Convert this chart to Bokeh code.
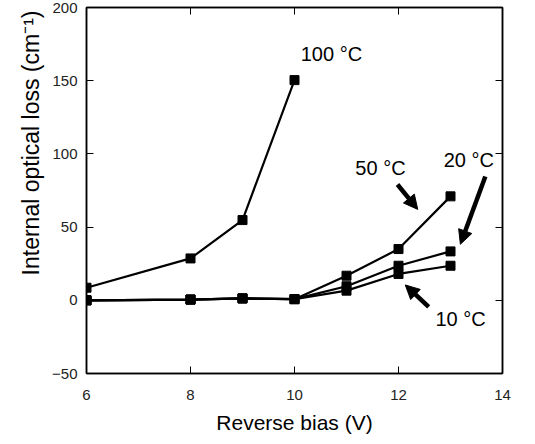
from bokeh.plotting import figure
from bokeh.models import LinearAxis, Range1d, Arrow, NormalHead, Label, FixedTicker, Title
from bokeh.embed import file_html
from bokeh.resources import INLINE

# Data
bias_100 = [6, 8, 9, 10]
loss_100 = [8.6, 28.6, 54.8, 150.4]

bias_low = [6, 8, 9, 10, 11, 12, 13]
loss_50 = [0.0, 0.5, 1.3, 0.8, 16.8, 35.0, 71.0]
loss_20 = [0.0, 0.5, 1.3, 0.8, 9.6, 23.6, 33.4]
loss_10 = [0.0, 0.5, 1.3, 0.8, 6.6, 18.0, 23.6]

x_ticks = [6, 8, 10, 12, 14]
y_ticks = [-50, 0, 50, 100, 150, 200]

labels = ["100 °C", "50 °C", "20 °C", "10 °C"]
label_x = [10.12, 11.17, 12.87, 12.71]
label_y = [168, 90.6, 96, -12.6]

# arrows: (x_start, y_start, x_end, y_end)
arrow_x0 = [11.98, 13.67, 12.58]
arrow_y0 = [79.1, 84.6, -4.5]
arrow_x1 = [12.37, 13.19, 12.13]
arrow_y1 = [62.1, 38.3, 10.5]

FONT = "Liberation Sans"
H = 436

p = figure(width=519, height=H, x_range=Range1d(6, 14), y_range=Range1d(-50, 200),
           output_backend="svg", toolbar_location=None,
           min_border_left=86, min_border_right=17, min_border_top=7, min_border_bottom=61)

p.grid.visible = False
p.outline_line_color = "black"
p.outline_line_width = 1.5
p.background_fill_color = "white"
p.border_fill_color = "white"

p.xaxis.ticker = FixedTicker(ticks=x_ticks)
p.yaxis.ticker = FixedTicker(ticks=y_ticks)
for ax in [p.xaxis[0], p.yaxis[0]]:
    ax.major_tick_in = 7
    ax.major_tick_out = 0
    ax.minor_tick_line_color = None
    ax.axis_line_color = "black"
    ax.axis_line_width = 1.5
    ax.major_tick_line_width = 1
    ax.major_label_text_font = FONT
    ax.major_label_text_font_size = "15px"
    ax.major_label_text_color = "#222222"
    ax.axis_label_text_font = FONT
    ax.axis_label_text_font_style = "normal"
    ax.axis_label_text_color = "black"

p.xaxis.axis_label = "Reverse bias (V)"
p.xaxis.axis_label_text_font_size = "21px"
p.xaxis.major_label_standoff = 16
p.yaxis.major_label_standoff = 9
p.xaxis.axis_label_standoff = 8

# y-axis title, placed high as in the reference
p.add_layout(Title(text="Internal optical loss (cm⁻¹)", align="right", offset=3,
                   text_font=FONT, text_font_size="23px", text_font_style="normal",
                   text_color="black", standoff=12), "left")

for loc, tick in [("above", x_ticks), ("right", y_ticks)]:
    ax = LinearAxis(ticker=FixedTicker(ticks=tick), major_tick_in=7, major_tick_out=0,
                    minor_tick_line_color=None,
                    major_label_overrides={t: "" for t in tick},
                    major_label_standoff=0, axis_line_color="black", axis_line_width=1.5)
    p.add_layout(ax, loc)

# lines and markers
for xs, ys in [(bias_100, loss_100), (bias_low, loss_50), (bias_low, loss_20), (bias_low, loss_10)]:
    p.line(xs, ys, line_color="black", line_width=2.2)
    p.scatter(xs, ys, marker="square", size=9, fill_color="black", line_color="black")

for t, x, y in zip(labels, label_x, label_y):
    p.add_layout(Label(x=x, y=y, text=t, text_font=FONT, text_font_size="20px",
                       text_baseline="middle", text_align="left", text_color="black"))

for x0, y0, x1, y1 in zip(arrow_x0, arrow_y0, arrow_x1, arrow_y1):
    p.add_layout(Arrow(x_start=x0, y_start=y0, x_end=x1, y_end=y1,
                       line_color="black", line_width=4.5,
                       end=NormalHead(size=14, fill_color="black", line_color="black")))

open("out.html", "w").write(file_html(p, INLINE))
